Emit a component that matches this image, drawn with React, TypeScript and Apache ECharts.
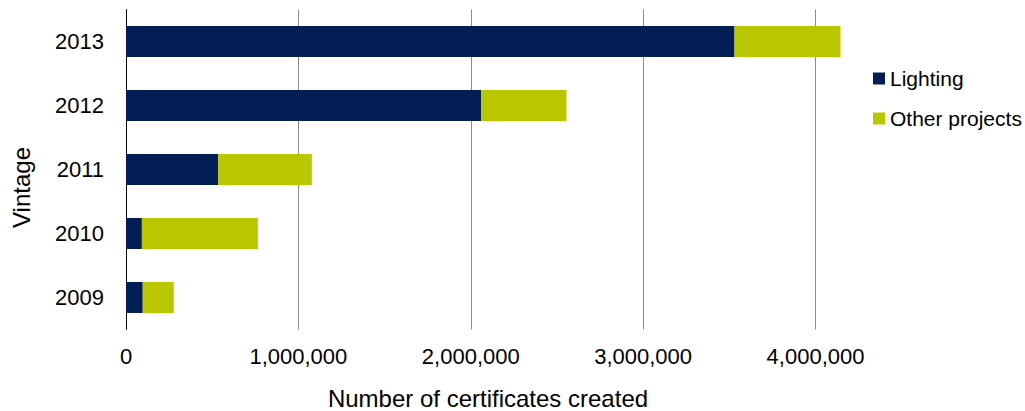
import React, { useEffect, useRef } from "react";
import * as echarts from "echarts";

const categories = ["2009", "2010", "2011", "2012", "2013"];
const lighting = [97000, 92000, 535000, 2060000, 3530000];
const otherProjects = [180000, 673000, 543000, 495000, 615000];
const seriesNames = ["Lighting", "Other projects"];
const xTitle = "Number of certificates created";
const yTitle = "Vintage";

const FONT = "'Liberation Sans', Arial, sans-serif";

export default function App() {
  const ref = useRef<HTMLDivElement>(null);
  useEffect(() => {
    if (!ref.current) return;
    const chart = echarts.init(ref.current, null, { renderer: "svg" });
    chart.setOption({
      animation: false,
      backgroundColor: "#ffffff",
      textStyle: { fontFamily: FONT },
      grid: {
        left: 126,
        top: 9.5,
        width: 724,
        height: 320,
        outerBoundsMode: "none",
        containLabel: false,
      },
      legend: {
        orient: "vertical",
        left: 868,
        top: 63,
        itemWidth: 12,
        itemHeight: 12,
        itemGap: 19,
        icon: "rect",
        textStyle: { fontFamily: FONT, fontSize: 21, color: "#000" },
        data: seriesNames,
      },
      xAxis: {
        type: "value",
        min: 0,
        max: 4200000,
        interval: 1000000,
        name: xTitle,
        nameLocation: "middle",
        nameGap: 57,
        nameTextStyle: { fontFamily: FONT, fontSize: 24, color: "#000" },
        axisLine: { show: false },
        axisTick: { show: false },
        axisLabel: {
          fontFamily: FONT,
          fontSize: 22,
          color: "#000",
          margin: 16,
          showMaxLabel: false,
          formatter: (v: number) => v.toLocaleString("en-US"),
        },
        splitLine: {
          show: true,
          showMinLine: false,
          showMaxLine: false,
          lineStyle: { color: "#8a8a8a", width: 1 },
        },
      },
      yAxis: {
        type: "category",
        data: categories,
        axisLine: { show: true, lineStyle: { color: "#000", width: 1 } },
        axisTick: { show: false },
        axisLabel: { fontFamily: FONT, fontSize: 22, color: "#000", margin: 22 },
        splitLine: { show: false },
      },
      graphic: [
        {
          type: "text",
          x: 21,
          y: 187.5,
          rotation: Math.PI / 2,
          style: {
            text: yTitle,
            fontFamily: FONT,
            fontSize: 24,
            fill: "#000",
            align: "center",
            verticalAlign: "middle",
          },
        },
      ],
      series: [
        {
          name: seriesNames[0],
          type: "bar",
          stack: "total",
          barWidth: 31,
          itemStyle: { color: "#021E55" },
          data: lighting,
        },
        {
          name: seriesNames[1],
          type: "bar",
          stack: "total",
          barWidth: 31,
          itemStyle: { color: "#B9C600" },
          data: otherProjects,
        },
      ],
    });
    return () => chart.dispose();
  }, []);
  return (
    <div
      ref={ref}
      style={{ position: "fixed", left: 0, top: 0, width: 1025, height: 411 }}
    />
  );
}
